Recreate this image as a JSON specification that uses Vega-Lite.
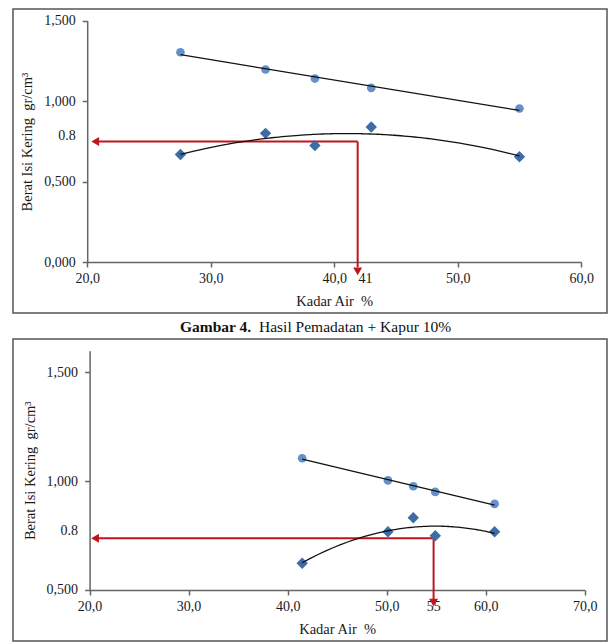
{
  "$schema": "https://vega.github.io/schema/vega-lite/v6.json",
  "padding": {"left": 12, "top": 8, "right": 0, "bottom": 0},
  "background": "white",
  "bounds": "flush",
  "spacing": 26,
  "config": {
    "font": "Liberation Serif",
    "view": {"stroke": "#555555", "strokeWidth": 1.5},
    "axis": {
      "grid": false,
      "domainColor": "#666666",
      "domainWidth": 1.5,
      "tickColor": "#666666",
      "tickWidth": 1.5,
      "tickSize": 5,
      "labelFont": "Liberation Serif",
      "labelFontSize": 14,
      "labelColor": "#1a1a1a",
      "titleFont": "Liberation Serif",
      "titleFontSize": 14.5,
      "titleFontWeight": "normal",
      "titleColor": "#1a1a1a",
      "labelFlush": false,
      "labelOverlap": false,
      "labelBound": false
    },
    "title": {"font": "Liberation Serif", "fontSize": 15.5, "color": "#111111"}
  },
  "datasets": {
    "p1": [
      {"series": "circle", "x": 27.55, "y": 1.304},
      {"series": "circle", "x": 34.44, "y": 1.197},
      {"series": "circle", "x": 38.44, "y": 1.141},
      {"series": "circle", "x": 43.0, "y": 1.083},
      {"series": "circle", "x": 55.0, "y": 0.955},
      {"series": "diamond", "x": 27.55, "y": 0.670},
      {"series": "diamond", "x": 34.44, "y": 0.801},
      {"series": "diamond", "x": 38.44, "y": 0.725},
      {"series": "diamond", "x": 43.0, "y": 0.840},
      {"series": "diamond", "x": 55.0, "y": 0.656}
    ],
    "a1": [
      {"x": 20.9, "x2": 41.9, "y": 0.75, "y2": 0.75},
      {"x": 41.9, "x2": 41.9, "y": 0.75, "y2": -0.03}
    ],
    "h1": [
      {"dir": "left", "x": 20.65, "y": 0.75},
      {"dir": "down", "x": 41.9, "y": -0.055}
    ],
    "p2": [
      {"series": "circle", "x": 41.47, "y": 1.105},
      {"series": "circle", "x": 50.13, "y": 1.003},
      {"series": "circle", "x": 52.69, "y": 0.976},
      {"series": "circle", "x": 54.91, "y": 0.950},
      {"series": "circle", "x": 60.9, "y": 0.895},
      {"series": "diamond", "x": 41.47, "y": 0.622},
      {"series": "diamond", "x": 50.13, "y": 0.767},
      {"series": "diamond", "x": 52.69, "y": 0.831},
      {"series": "diamond", "x": 54.91, "y": 0.748},
      {"series": "diamond", "x": 60.9, "y": 0.767}
    ],
    "a2": [
      {"x": 20.8, "x2": 54.74, "y": 0.7365, "y2": 0.7365},
      {"x": 54.74, "x2": 54.74, "y": 0.7365, "y2": 0.455}
    ],
    "h2": [
      {"dir": "left", "x": 20.55, "y": 0.7365},
      {"dir": "down", "x": 54.74, "y": 0.44}
    ]
  },
  "vconcat": [
    {
      "width": 594,
      "height": 304,
      "title": {"text": "Gambar 4.", "orient": "bottom", "anchor": "start", "dx": 167, "offset": 19, "baseline": "alphabetic", "fontWeight": "bold"},
      "encoding": {
        "x": {
          "field": "x", "type": "quantitative",
          "scale": {"domain": [20, 60], "range": [74.2, 568.2], "nice": false, "zero": false},
          "axis": {
            "title": "Kadar Air\u00a0\u00a0%",
            "values": [20, 30, 40, 50, 60, 42.5],
            "labelExpr": "datum.value == 42.5 ? '41' : replace(format(datum.value, '.1f'), '.', ',')",
            "tickOpacity": {"condition": {"test": "datum.value == 42.5", "value": 0}, "value": 1},
            "offset": -51,
            "labelPadding": 4,
            "titlePadding": 9
          }
        },
        "y": {
          "field": "y", "type": "quantitative",
          "scale": {"domain": [0, 1.5], "range": [253.4, 11.7], "nice": false, "zero": false},
          "axis": {
            "title": "Berat Isi Kering\u00a0\u00a0gr/cm³",
            "values": [0, 0.5, 1, 1.5, 0.787],
            "labelExpr": "datum.value > 0.7 && datum.value < 0.9 ? '0.8' : replace(format(datum.value, '.3f'), '.', ',')",
            "tickOpacity": {"condition": {"test": "datum.value > 0.7 && datum.value < 0.9", "value": 0}, "value": 1},
            "offset": -74.2,
            "labelPadding": 7,
            "titlePadding": 9
          }
        }
      },
      "layer": [
        {
          "data": {"name": "a1"},
          "mark": {"type": "rule", "color": "#c0151c", "strokeWidth": 2},
          "encoding": {"x2": {"field": "x2"}, "y2": {"field": "y2"}}
        },
        {
          "data": {"name": "h1"},
          "mark": {"type": "point", "filled": true, "color": "#c0151c", "opacity": 1, "size": 80},
          "encoding": {"shape": {"field": "dir", "type": "nominal", "scale": {"domain": ["left", "down"], "range": ["triangle-left", "triangle-down"]}, "legend": null}}
        },
        {
          "data": {"name": "p1"},
          "transform": [{"filter": "datum.series == 'circle'"}],
          "mark": {"type": "point", "shape": "circle", "filled": true, "color": "#5b8bc7", "opacity": 0.95, "size": 75}
        },
        {
          "data": {"name": "p1"},
          "transform": [{"filter": "datum.series == 'diamond'"}],
          "mark": {"type": "point", "shape": "diamond", "filled": true, "color": "#3d6ca7", "opacity": 1, "size": 130}
        },
        {
          "data": {"name": "p1"},
          "transform": [{"filter": "datum.series == 'circle'"}, {"regression": "y", "on": "x", "method": "linear"}],
          "mark": {"type": "line", "color": "#111111", "strokeWidth": 1.3}
        },
        {
          "data": {"name": "p1"},
          "transform": [{"filter": "datum.series == 'diamond'"}, {"regression": "y", "on": "x", "method": "poly", "order": 2}],
          "mark": {"type": "line", "color": "#111111", "strokeWidth": 1.3}
        }
      ]
    },
    {
      "width": 594,
      "height": 302,
      "title": {"text": "Hasil Pemadatan + Kapur 10%", "orient": "top", "anchor": "start", "dx": 246, "offset": -8, "baseline": "alphabetic", "fontWeight": "normal"},
      "encoding": {
        "x": {
          "field": "x", "type": "quantitative",
          "scale": {"domain": [20, 70], "range": [76.6, 571.7], "nice": false, "zero": false},
          "axis": {
            "title": "Kadar Air\u00a0\u00a0%",
            "values": [20, 30, 40, 50, 60, 70, 54.7],
            "labelExpr": "datum.value == 54.7 ? '55' : replace(format(datum.value, '.1f'), '.', ',')",
            "tickOpacity": {"condition": {"test": "datum.value == 54.7", "value": 0}, "value": 1},
            "offset": -51,
            "labelPadding": 4,
            "titlePadding": 9
          }
        },
        "y": {
          "field": "y", "type": "quantitative",
          "scale": {"domain": [0.5, 1.6], "range": [250.7, 11.7], "nice": false, "zero": false},
          "axis": {
            "title": "Berat Isi Kering\u00a0\u00a0gr/cm³",
            "values": [0.5, 1, 1.5, 0.773],
            "labelExpr": "datum.value > 0.7 && datum.value < 0.9 ? '0.8' : replace(format(datum.value, '.3f'), '.', ',')",
            "tickOpacity": {"condition": {"test": "datum.value > 0.7 && datum.value < 0.9", "value": 0}, "value": 1},
            "offset": -76.6,
            "labelPadding": 7,
            "titlePadding": 9
          }
        }
      },
      "layer": [
        {
          "data": {"name": "a2"},
          "mark": {"type": "rule", "color": "#c0151c", "strokeWidth": 2},
          "encoding": {"x2": {"field": "x2"}, "y2": {"field": "y2"}}
        },
        {
          "data": {"name": "h2"},
          "mark": {"type": "point", "filled": true, "color": "#c0151c", "opacity": 1, "size": 80},
          "encoding": {"shape": {"field": "dir", "type": "nominal", "scale": {"domain": ["left", "down"], "range": ["triangle-left", "triangle-down"]}, "legend": null}}
        },
        {
          "data": {"name": "p2"},
          "transform": [{"filter": "datum.series == 'circle'"}],
          "mark": {"type": "point", "shape": "circle", "filled": true, "color": "#5b8bc7", "opacity": 0.95, "size": 75}
        },
        {
          "data": {"name": "p2"},
          "transform": [{"filter": "datum.series == 'diamond'"}],
          "mark": {"type": "point", "shape": "diamond", "filled": true, "color": "#3d6ca7", "opacity": 1, "size": 130}
        },
        {
          "data": {"name": "p2"},
          "transform": [{"filter": "datum.series == 'circle'"}, {"regression": "y", "on": "x", "method": "linear"}],
          "mark": {"type": "line", "color": "#111111", "strokeWidth": 1.3}
        },
        {
          "data": {"name": "p2"},
          "transform": [{"filter": "datum.series == 'diamond'"}, {"regression": "y", "on": "x", "method": "poly", "order": 2}],
          "mark": {"type": "line", "color": "#111111", "strokeWidth": 1.3}
        }
      ]
    }
  ]
}
